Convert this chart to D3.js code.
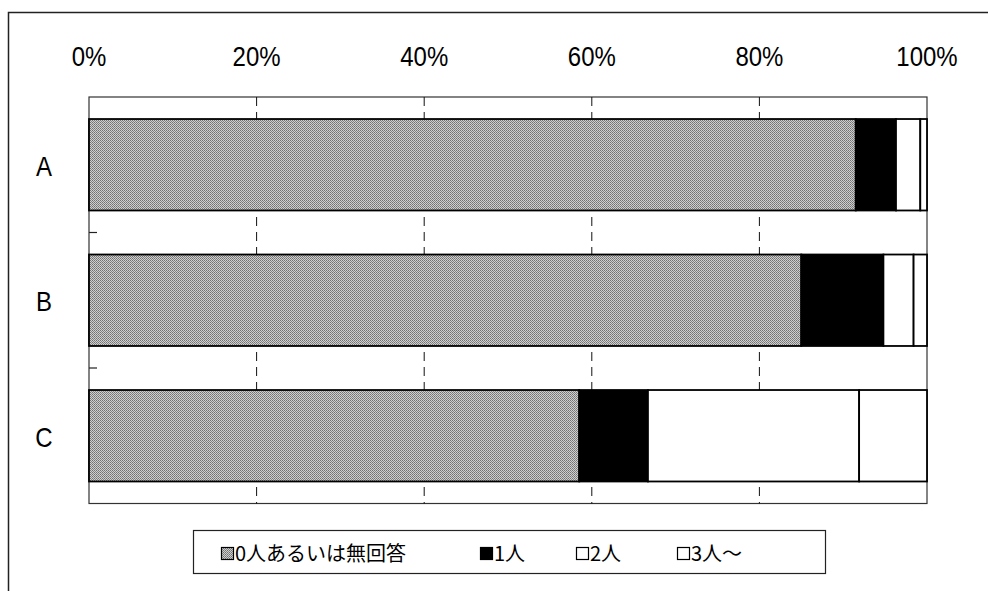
<!DOCTYPE html>
<html>
<head>
<meta charset="utf-8">
<script src="https://cdn.jsdelivr.net/npm/d3@7/dist/d3.min.js"></script>
<style>
  html, body { margin: 0; padding: 0; background: #fff; }
  svg { display: block; }
</style>
</head>
<body>
<svg id="chart" width="988" height="591"></svg>
<script>
// Households by number of persons, share per group (%)
const categories = ["A", "B", "C"];
const seriesNames = ["0人あるいは無回答", "1人", "2人", "3人～"];
const noneOrNoAnswer = [91.5, 85.0, 58.5];
const onePerson = [4.8, 9.8, 8.2];
const twoPersons = [2.9, 3.6, 25.2];
const threePlus = [0.8, 1.6, 8.1];
const tickValues = [0, 20, 40, 60, 80, 100];
const tickLabels = ["0%", "20%", "40%", "60%", "80%", "100%"];

const seriesValues = [noneOrNoAnswer, onePerson, twoPersons, threePlus];
const rows = categories.map((c, i) => {
  const r = { cat: c };
  seriesNames.forEach((s, k) => { r[s] = seriesValues[k][i]; });
  return r;
});

const svg = d3.select("#chart");
const plot = { left: 89, right: 927, top: 97, bottom: 503.5 };

// dithered grey used for the first series
const defs = svg.append("defs");
const pat = defs.append("pattern")
  .attr("id", "dither").attr("width", 2).attr("height", 2)
  .attr("patternUnits", "userSpaceOnUse");
pat.append("rect").attr("width", 2).attr("height", 2).attr("fill", "#cfcfcf");
pat.append("rect").attr("width", 1).attr("height", 1).attr("fill", "#727272");
pat.append("rect").attr("x", 1).attr("y", 1).attr("width", 1).attr("height", 1).attr("fill", "#858585");

const fills = ["url(#dither)", "#000", "#fff", "#fff"];
const color = d3.scaleOrdinal().domain(seriesNames).range(fills);

const x = d3.scaleLinear().domain([0, 100]).range([plot.left, plot.right]);
const y = d3.scaleBand().domain(categories)
  .range([plot.top, plot.bottom])
  .paddingInner(0.325).paddingOuter(0.1625);

// outer frame
svg.append("rect")
  .attr("x", 8.5).attr("y", 12.5).attr("width", 1000).attr("height", 600)
  .attr("fill", "none").attr("stroke", "#222").attr("stroke-width", 1.5);

// plot area
svg.append("rect")
  .attr("x", plot.left).attr("y", plot.top)
  .attr("width", plot.right - plot.left).attr("height", plot.bottom - plot.top)
  .attr("fill", "#fff").attr("stroke", "#333").attr("stroke-width", 1.2);

// dashed vertical gridlines
svg.append("g").selectAll("line")
  .data(tickValues.filter(v => v > 0 && v < 100))
  .join("line")
  .attr("x1", d => x(d)).attr("x2", d => x(d))
  .attr("y1", plot.top).attr("y2", plot.bottom)
  .attr("stroke", "#111").attr("stroke-width", 1)
  .attr("stroke-dasharray", "9,6");

// top percentage labels
const fontLatin = "'Liberation Sans', Arial, sans-serif";
svg.append("g").selectAll("text")
  .data(tickValues)
  .join("text")
  .attr("transform", d => `translate(${x(d)},66) scale(1,1.15)`)
  .attr("text-anchor", "middle")
  .attr("font-family", fontLatin)
  .attr("font-size", 24)
  .attr("fill", "#000")
  .text((d, i) => tickLabels[i]);

// category ticks between bands (inward)
const step = y.step();
svg.append("g").selectAll("line")
  .data(categories.slice(1))
  .join("line")
  .attr("x1", plot.left).attr("x2", plot.left + 8)
  .attr("y1", d => y(d) - y.paddingInner() * step / 2)
  .attr("y2", d => y(d) - y.paddingInner() * step / 2)
  .attr("stroke", "#222").attr("stroke-width", 1.2);

// category labels
svg.append("g").selectAll("text")
  .data(categories)
  .join("text")
  .attr("transform", d => `translate(44,${y(d) + y.bandwidth() / 2 + 11}) scale(1,1.15)`)
  .attr("text-anchor", "middle")
  .attr("font-family", fontLatin)
  .attr("font-size", 24)
  .attr("fill", "#000")
  .text(d => d);

// stacked bars
const stacked = d3.stack().keys(seriesNames)(rows);
svg.append("g").selectAll("g")
  .data(stacked)
  .join("g")
  .attr("fill", d => color(d.key))
  .selectAll("rect")
  .data(d => d)
  .join("rect")
  .attr("x", d => x(d[0]))
  .attr("y", d => y(d.data.cat))
  .attr("width", d => x(d[1]) - x(d[0]))
  .attr("height", y.bandwidth())
  .attr("stroke", "#000")
  .attr("stroke-width", 1.8);

// legend
const lg = svg.append("g");
lg.append("rect")
  .attr("x", 193.5).attr("y", 530.5).attr("width", 632).attr("height", 43)
  .attr("fill", "#fff").attr("stroke", "#222").attr("stroke-width", 1.2);
const legendX = [221, 480, 576, 677];
const fontJa = "'Noto Sans CJK JP', 'Noto Sans', sans-serif";
const item = lg.selectAll("g.item")
  .data(seriesNames)
  .join("g")
  .attr("class", "item")
  .attr("transform", (d, i) => `translate(${legendX[i]},0)`);
item.append("rect")
  .attr("x", 0.5).attr("y", 547.5).attr("width", 12).attr("height", 12)
  .attr("fill", d => color(d))
  .attr("stroke", "#000").attr("stroke-width", 1.2);
item.append("text")
  .attr("x", 14).attr("y", 561)
  .attr("font-family", fontJa)
  .attr("font-size", 20)
  .attr("fill", "#000")
  .text(d => d);
</script>
</body>
</html>
